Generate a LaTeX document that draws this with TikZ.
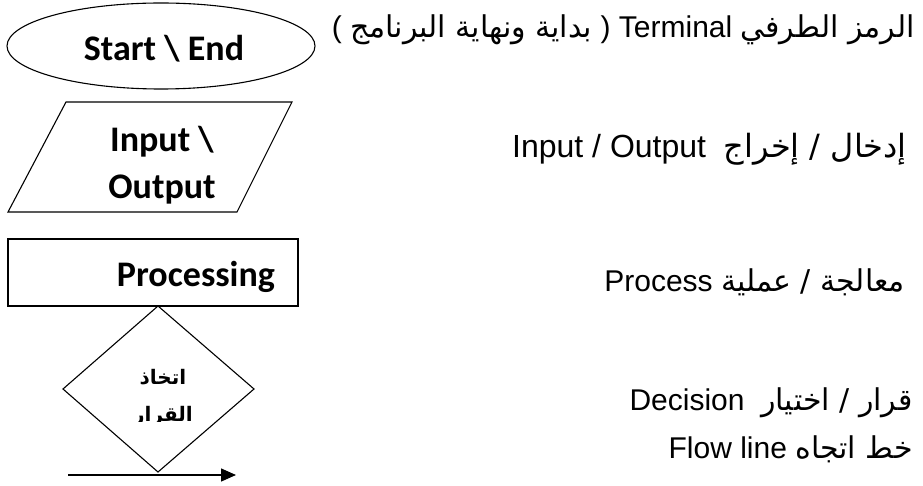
\documentclass[tikz,border=0pt]{standalone}
\usepackage{fontspec}
\setmainfont{Liberation Sans}
\newfontfamily\arabicfont[Script=Arabic]{DejaVu Sans}
\newfontfamily\calib{Carlito}
\TeXXeTstate=1
\usetikzlibrary{shapes.geometric,arrows.meta}
\begin{document}
\begin{tikzpicture}[x=1pt,y=-1pt,
  shapeline/.style={draw=black,line width=1.1pt},
  boxtext/.style={font=\calib\bfseries\fontsize{36}{40}\selectfont,inner sep=0pt},
  righttext/.style={font=\fontsize{30}{34}\selectfont,inner sep=0pt,anchor=base east},
  dectext/.style={font=\arabicfont\bfseries\fontsize{20}{24}\selectfont,inner sep=0pt,anchor=base}]
\useasboundingbox (0,0) rectangle (923,486);
\fill[white] (0,0) rectangle (923,486);
% Terminal
\node[shapeline,ellipse,minimum width=308pt,minimum height=86pt,inner sep=0pt] (term) at (161,46) {};
\node[boxtext,anchor=base] (termtext) at (164,61) {Start \textbackslash\ End};
% Input/Output parallelogram
\coordinate (p1) at (66,102);
\coordinate (p2) at (292,102);
\coordinate (p3) at (237,212);
\coordinate (p4) at (8,212);
\draw[shapeline,line join=miter] (p1) -- (p2) -- (p3) -- (p4) -- cycle;
\node[boxtext,anchor=base] (iotext1) at (162,152) {Input \textbackslash};
\node[boxtext,anchor=base] (iotext2) at (162,199) {Output};
% Process
\node[shapeline,rectangle,minimum width=290pt,minimum height=67pt,inner sep=0pt] (proc) at (153,272.5) {};
\node[boxtext,anchor=base] (proctext) at (196,286) {Processing};
% Decision
\coordinate (dt) at (158,306);
\coordinate (dr) at (254,389);
\coordinate (db) at (158,472);
\coordinate (dl) at (63,389);
\draw[shapeline,line join=miter] (dt) -- (dr) -- (db) -- (dl) -- cycle;
\node[dectext] (dec1) at (163,384) {\beginR اتخاذ\endR};
\begin{scope}
\clip (100,395) rectangle (230,421);
\node[dectext] (dec2) at (163,421) {\beginR القرار\endR};
\end{scope}
% Flow line
\coordinate (fa) at (68,475);
\coordinate (fb) at (236,475);
\draw[line width=1.3pt,-{Triangle[length=15pt,width=13pt]}] (fa) -- (fb);
% Right-hand descriptions
\node[righttext] (l1) at (915,38) {( {\arabicfont\beginR بداية ونهاية البرنامج\endR} ) Terminal {\arabicfont\beginR الرمز الطرفي\endR}};
\node[righttext,font=\fontsize{32}{36}\selectfont] (l2) at (907,158) {Input / Output\ \ {\arabicfont\beginR إدخال / إخراج\endR}};
\node[righttext] (l3) at (905,291) {Process {\arabicfont\beginR معالجة / عملية\endR}};
\node[righttext] (l4) at (913,410) {Decision\ \ {\arabicfont\beginR قرار / اختيار\endR}};
\node[righttext] (l5) at (913,458) {Flow line {\arabicfont\beginR خط اتجاه\endR}};
\end{tikzpicture}
\end{document}
